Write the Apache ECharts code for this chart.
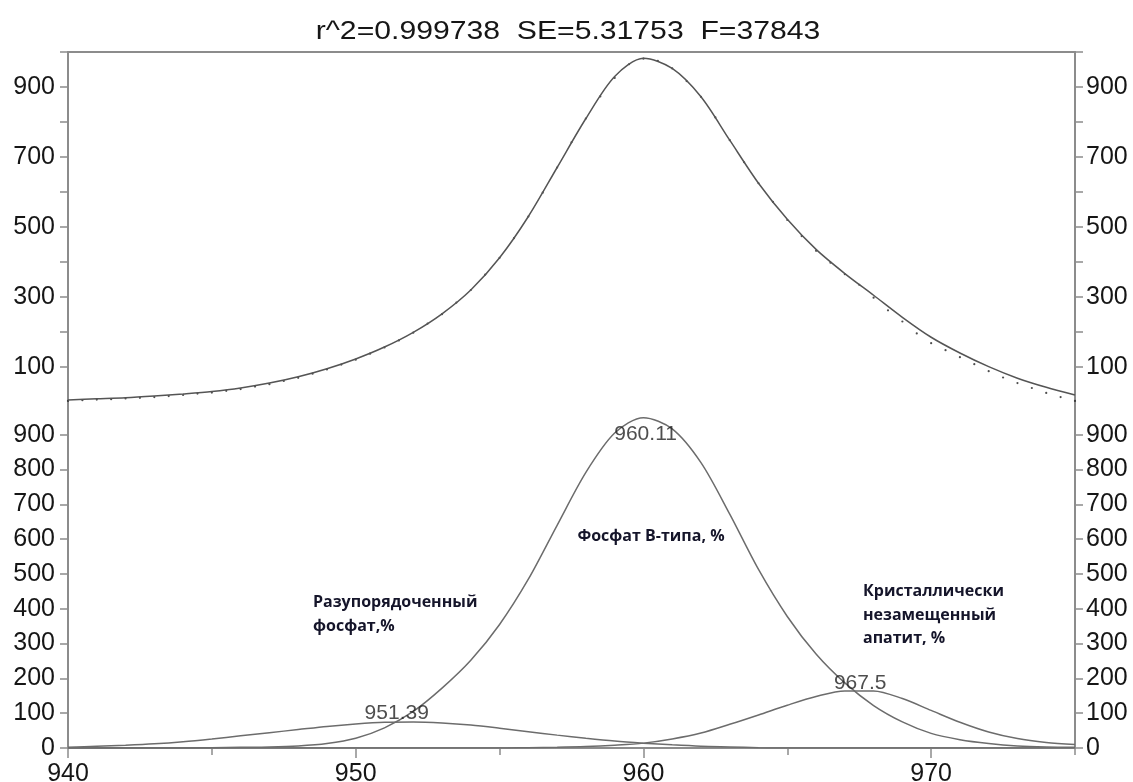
<!DOCTYPE html>
<html><head><meta charset="utf-8">
<script src="https://cdn.jsdelivr.net/npm/echarts@6/dist/echarts.min.js"></script>
<style>html,body{margin:0;padding:0;background:#fff}#c{width:1133px;height:782px}</style>
</head><body><div id="c"></div>
<script>
const titleText = 'r^2=0.999738  SE=5.31753  F=37843';

// wavenumber grid for the fitted curve and the components
const xGrid = [940,941,942,943,944,945,946,947,948,949,950,951,952,953,954,955,956,957,958,959,960,961,962,963,964,965,966,967,968,969,970,971,972,973,974,975];
// fitted (envelope) curve, top panel
const fitY = [6,9,12,17,23,30,40,54,72,95,123,157,199,252,320,412,530,670,810,930,982,953,872,748,625,522,436,367,305,242,185,140,101,68,42,20];
// experimental points, top panel
const expX = [940,940.5,941,941.5,942,942.5,943,943.5,944,944.5,945,945.5,946,946.5,947,947.5,948,948.5,949,949.5,950,950.5,951,951.5,952,952.5,953,953.5,954,954.5,955,955.5,956,956.5,957,957.5,958,958.5,959,959.5,960,960.5,961,961.5,962,962.5,963,963.5,964,964.5,965,965.5,966,966.5,967,967.5,968,968.5,969,969.5,970,970.5,971,971.5,972,972.5,973,973.5,974,974.5,975];
const expY = [3,5,7,8,10,12,14,17,20,24,27,32,37,44,51,60,69,81,93,107,121,138,156,176,198,224,251,284,320,364,412,468,530,598,670,742,810,873,926,965,981,975,953,917,872,813,748,685,625,572,520,474,432,398,365,335,298,262,230,196,168,148,128,108,88,70,54,40,26,14,3];
// components, bottom panel
const compA = [2,5,8,12,18,26,35,44,53,62,69,74,75,72,66,57,47,37,28,20,14,9,5,3,1,0,0,0,0,0,0,0,0,0,0,0];
const compB = [0,0,0,0,0,1,2,3,6,13,28,58,105,172,252,355,485,640,792,905,949,917,820,672,513,378,270,187,122,75,42,24,13,6,3,2];
const compC = [0,0,0,0,0,0,0,0,0,0,0,0,0,0,0,0,1,2,4,8,14,26,43,68,95,123,148,164,164,142,108,74,46,27,16,10];
// peak positions
const peakX = [951.39, 960.11, 967.5];
const peakY = [75, 949, 167];
const peakLabels = ['951.39', '960.11', '967.5'];
// axis ticks
const topTickValues = [100,200,300,400,500,600,700,800,900,1000];
const topLabelValues = [100,300,500,700,900];
const bottomTickValues = [0,100,200,300,400,500,600,700,800,900];
const xMajorTicks = [940,950,960,970];
const xMinorTicks = [945,955,965,975];
const xLabelValues = [940,950,960,970];
// component names
const componentNames = ['Разупорядоченный\nфосфат,%', 'Фосфат В-типа, %', 'Кристаллически\nнезамещенный\nапатит, %'];

const AX = '#8c8c8c';
const TXT = '#161616';
const FONT = 'Liberation Sans, Arial, sans-serif';

function yAx(gridIndex, position, tickVals, labelVals, margin) {
  return {
    type: 'value', gridIndex, position, min: 0, max: 1000, interval: 100,
    axisLine: { show: true, onZero: false, lineStyle: { color: AX, width: 2 } },
    axisTick: { show: true, length: 8, customValues: tickVals, lineStyle: { color: AX, width: 1.5 } },
    axisLabel: { customValues: labelVals, fontSize: 25, fontFamily: FONT, color: TXT, margin: margin },
    splitLine: { show: false }
  };
}

const pairs = (xs, ys) => xs.map((x, i) => [x, ys[i]]);
const labelOffsets = [[1, -9], [-1, 16], [1, -7]];

const chart = echarts.init(document.getElementById('c'));
chart.setOption({
  animation: false,
  backgroundColor: '#fff',
  grid: [
    { left: 68, right: 58, top: 52, height: 350, containLabel: false, outerBoundsMode: 'none' },
    { left: 68, right: 58, top: 400, height: 348, containLabel: false, outerBoundsMode: 'none' }
  ],
  xAxis: [
    { type: 'value', gridIndex: 0, position: 'top', min: 940, max: 975,
      axisLine: { show: true, onZero: false, lineStyle: { color: AX, width: 2 } },
      axisTick: { show: false }, axisLabel: { show: false }, splitLine: { show: false } },
    { type: 'value', gridIndex: 1, position: 'bottom', min: 940, max: 975, interval: 10,
      axisLine: { show: true, onZero: false, lineStyle: { color: AX, width: 2 } },
      axisTick: { show: true, length: 10, customValues: xMajorTicks, lineStyle: { color: AX, width: 1.5 } },
      axisLabel: { customValues: xLabelValues, fontSize: 25, fontFamily: FONT, color: TXT, margin: 14 },
      splitLine: { show: false } },
    { type: 'value', gridIndex: 1, position: 'bottom', min: 940, max: 975,
      axisLine: { show: false, onZero: false },
      axisTick: { show: true, length: 7, customValues: xMinorTicks, lineStyle: { color: AX, width: 1.5 } },
      axisLabel: { show: false }, splitLine: { show: false } }
  ],
  yAxis: [
    yAx(0, 'left', topTickValues, topLabelValues, 13),
    yAx(0, 'right', topTickValues, topLabelValues, 11),
    yAx(1, 'left', bottomTickValues, bottomTickValues, 13),
    yAx(1, 'right', bottomTickValues, bottomTickValues, 11)
  ],
  series: [
    { type: 'line', xAxisIndex: 0, yAxisIndex: 0, data: pairs(xGrid, fitY), smooth: 0.3,
      showSymbol: false, lineStyle: { color: '#555', width: 1.5 } },
    { type: 'scatter', xAxisIndex: 0, yAxisIndex: 0, data: pairs(expX, expY),
      symbolSize: 2.2, itemStyle: { color: '#222' } },
    { type: 'line', xAxisIndex: 1, yAxisIndex: 2, data: pairs(xGrid, compA), smooth: 0.3,
      showSymbol: false, lineStyle: { color: '#6c6c6c', width: 1.5 } },
    { type: 'line', xAxisIndex: 1, yAxisIndex: 2, data: pairs(xGrid, compB), smooth: 0.3,
      showSymbol: false, lineStyle: { color: '#6c6c6c', width: 1.5 } },
    { type: 'line', xAxisIndex: 1, yAxisIndex: 2, data: pairs(xGrid, compC), smooth: 0.3,
      showSymbol: false, lineStyle: { color: '#6c6c6c', width: 1.5 } },
    { type: 'scatter', xAxisIndex: 1, yAxisIndex: 2, symbolSize: 1, z: 5,
      itemStyle: { color: 'rgba(0,0,0,0)' },
      data: peakX.map((x, i) => ({ value: [x, peakY[i]],
        label: { show: true, position: 'inside', offset: labelOffsets[i], formatter: peakLabels[i],
                 fontSize: 21, fontFamily: FONT, color: '#222' } })) }
  ],
  graphic: [
    { type: 'text', x: 568, y: 32, scaleX: 1.16, z: 10,
      style: { text: titleText, font: '26px "Liberation Sans", Arial, sans-serif', fill: TXT,
               textAlign: 'center', textVerticalAlign: 'middle' } },
    { type: 'text', x: 313, y: 590, z: 10,
      style: { text: componentNames[0], font: 'bold 16px "Open Sans", sans-serif', fill: '#15152a',
               textAlign: 'left', textVerticalAlign: 'top', lineHeight: 24 } },
    { type: 'text', x: 651, y: 536, z: 10,
      style: { text: componentNames[1], font: 'bold 16px "Open Sans", sans-serif', fill: '#15152a',
               textAlign: 'center', textVerticalAlign: 'middle' } },
    { type: 'text', x: 863, y: 580, z: 10,
      style: { text: componentNames[2], font: 'bold 16px "Open Sans", sans-serif', fill: '#15152a',
               textAlign: 'left', textVerticalAlign: 'top', lineHeight: 23.5 } }
  ]
});
</script></body></html>
